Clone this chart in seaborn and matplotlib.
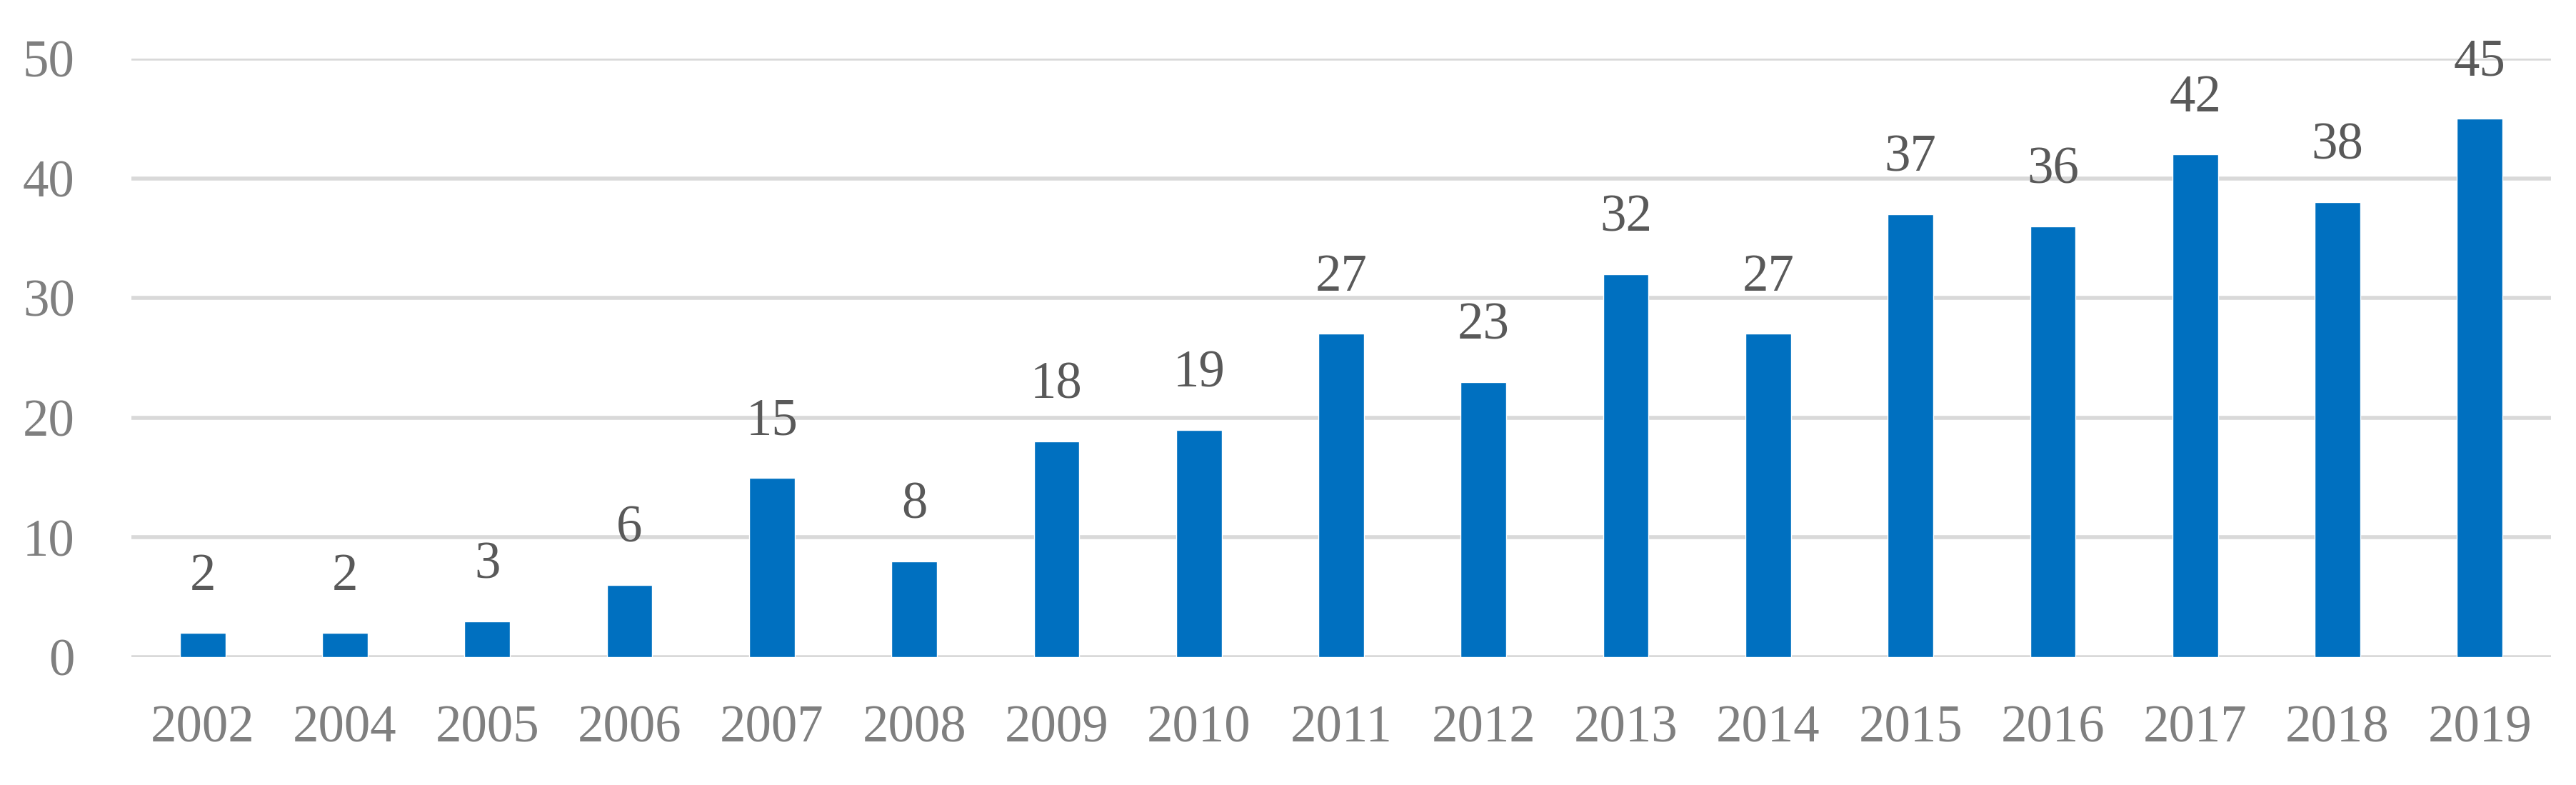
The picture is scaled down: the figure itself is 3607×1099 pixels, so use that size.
import matplotlib
matplotlib.use("Agg")
import matplotlib.pyplot as plt
import seaborn as sns
import pandas as pd

years = ["2002", "2004", "2005", "2006", "2007", "2008", "2009", "2010", "2011",
         "2012", "2013", "2014", "2015", "2016", "2017", "2018", "2019"]
counts = [2, 2, 3, 6, 15, 8, 18, 19, 27, 23, 32, 27, 37, 36, 42, 38, 45]
yticks = [0, 10, 20, 30, 40, 50]

df = pd.DataFrame({"year": years, "count": counts})

sns.set_theme(style="white")
plt.rcParams['font.family'] = ['Liberation Serif', 'DejaVu Serif']

fig = plt.figure(figsize=(36.07, 10.99), dpi=100)
ax = fig.add_axes([184/3607, 1 - 920/1099, (3572-184)/3607, (920-82)/1099])

sns.barplot(data=df, x="year", y="count", color="#0070C0", saturation=1,
            width=0.32, ax=ax, zorder=3)

ax.set_ylim(0, 50)
ax.set_xlim(-0.5, len(years) - 0.5)
ax.set_yticks(yticks)
ax.grid(axis="y", color="#D9D9D9", linewidth=4, zorder=0)
ax.grid(axis="x", visible=False)
for s in ax.spines.values():
    s.set_visible(False)
ax.set_xlabel("")
ax.set_ylabel("")
ax.tick_params(axis="x", length=0, pad=48, labelsize=52.5, labelcolor="#7F7F7F")
ax.tick_params(axis="y", length=0, pad=57, labelsize=52.5, labelcolor="#7F7F7F")

for c in ax.containers:
    ax.bar_label(c, labels=[str(v) for v in counts], padding=32,
                 fontsize=52.5, color="#595959")

fig.savefig("out.png", dpi=100)
